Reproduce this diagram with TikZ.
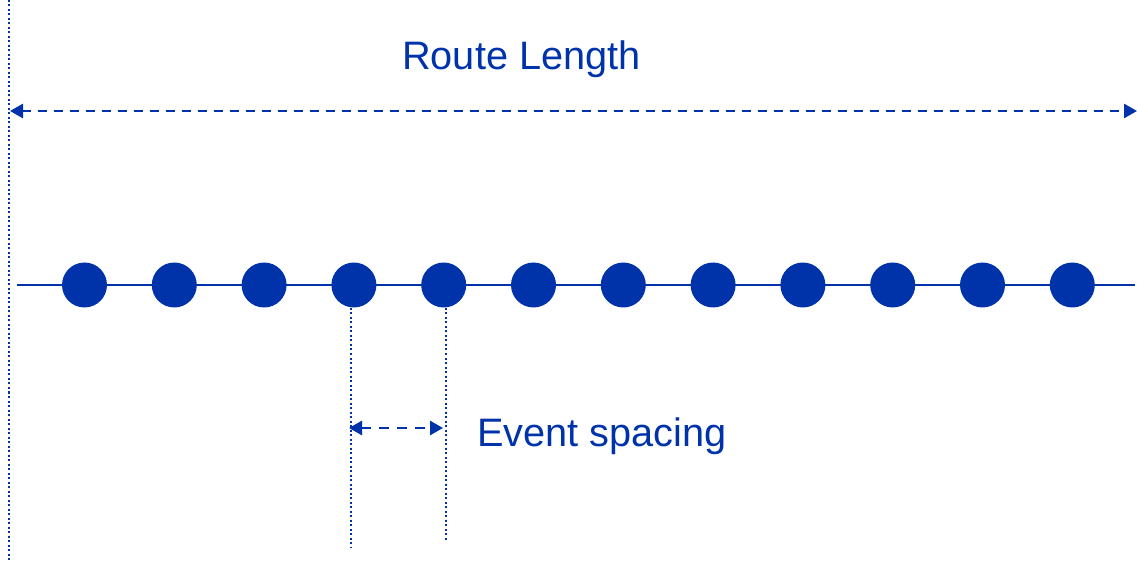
\documentclass[tikz,border=0pt]{standalone}
\usepackage{fontspec}
\setmainfont{Liberation Sans}
\usetikzlibrary{arrows.meta}
\definecolor{routeblue}{RGB}{0,51,170}
\begin{document}
\begin{tikzpicture}[x=1pt,y=-1pt,
  event/.style={circle,fill=routeblue,draw=none,minimum size=45pt,inner sep=0pt},
  guide/.style={routeblue,line width=2.2pt,dash pattern=on 2pt off 2.5pt},
  measure/.style={routeblue,line width=2.6pt,
    {Triangle[length=13pt,width=14pt]}-{Triangle[length=13pt,width=14pt]}},
  caption/.style={text=routeblue,font=\fontsize{39.7}{48}\selectfont,inner sep=0pt,anchor=base west}]
\useasboundingbox (0,0) rectangle (1138,561);

% route start marker
\coordinate (startTop) at (9,0);
\coordinate (startBot) at (9,561);
\draw[guide] (startTop) -- (startBot);

% route length dimension
\coordinate (lenL) at (10,111);
\coordinate (lenR) at (1137,111);
\draw[measure,dash pattern=on 9pt off 7pt] (lenL) -- (lenR);
\node[caption] (routeLabel) at (402,70) {Route Length};

% route line with events
\coordinate (lineL) at (17,285);
\coordinate (lineR) at (1135,285);
\draw[routeblue,line width=2.2pt] (lineL) -- (lineR);
\foreach \i in {1,...,12}
  \node[event] (c\i) at ({84.5+89.8*(\i-1)},285) {};

% event spacing dimension
\coordinate (gA1) at (351.3,308);
\coordinate (gA2) at (351.3,547);
\coordinate (gB1) at (445.7,308);
\coordinate (gB2) at (445.7,540);
\draw[guide] (gA1) -- (gA2);
\draw[guide] (gB1) -- (gB2);
\coordinate (spL) at (349,428);
\coordinate (spR) at (443,428);
\draw[measure,dash pattern=on 10pt off 8pt] (spL) -- (spR);
\node[caption] (spacingLabel) at (477,446) {Event spacing};
\end{tikzpicture}
\end{document}
